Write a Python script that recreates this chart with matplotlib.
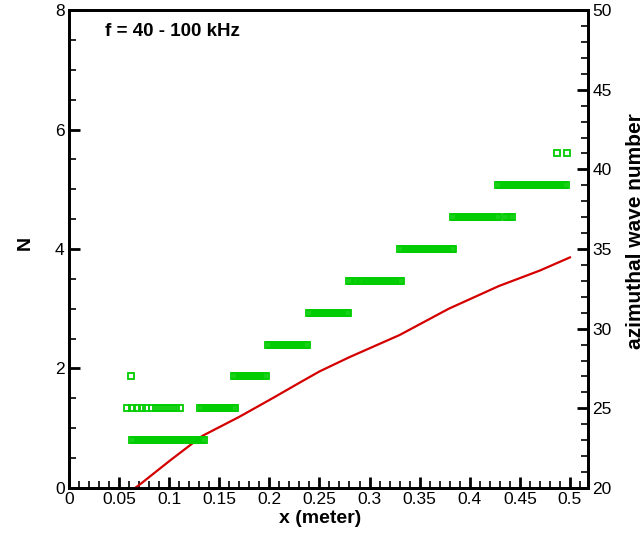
import matplotlib
matplotlib.use("Agg")
import matplotlib.pyplot as plt
from matplotlib.ticker import MultipleLocator

plt.rcParams['font.family'] = ['Liberation Sans', 'DejaVu Sans']

# red curve: N versus x
x_line = [0.066, 0.071, 0.101, 0.133, 0.170, 0.203, 0.230, 0.250, 0.280,
          0.330, 0.379, 0.429, 0.470, 0.500]
n_line = [0.00, 0.06, 0.46, 0.87, 1.19, 1.50, 1.76, 1.95, 2.19,
          2.56, 3.00, 3.38, 3.64, 3.86]

# green squares: azimuthal wave number versus x
w23 = [0.063, 0.065, 0.067, 0.069, 0.071, 0.073, 0.075, 0.077, 0.079, 0.081,
       0.083, 0.085, 0.087, 0.089, 0.091, 0.093, 0.095, 0.097, 0.099, 0.101,
       0.103, 0.105, 0.107, 0.109, 0.111, 0.113, 0.115, 0.117, 0.119, 0.121,
       0.123, 0.125, 0.127, 0.129, 0.131, 0.133, 0.135]
w25 = [0.058, 0.063, 0.068, 0.073, 0.077,
       0.083, 0.087, 0.091, 0.095, 0.099, 0.103, 0.107, 0.111,
       0.131, 0.133, 0.135, 0.137, 0.139, 0.141, 0.143, 0.145, 0.147, 0.149,
       0.151, 0.153, 0.155, 0.157, 0.159, 0.161, 0.163, 0.165, 0.166]
w27 = [0.062,
       0.165, 0.167, 0.169, 0.171, 0.173, 0.175, 0.177, 0.179, 0.181, 0.183,
       0.185, 0.187, 0.189, 0.191, 0.193, 0.195, 0.197]
w29 = [0.199, 0.201, 0.203, 0.205, 0.207, 0.209, 0.211, 0.213, 0.215, 0.217,
       0.219, 0.221, 0.223, 0.225, 0.227, 0.229, 0.231, 0.233, 0.235, 0.237,
       0.238]
w31 = [0.240, 0.242, 0.244, 0.246, 0.248, 0.250, 0.252, 0.254, 0.256, 0.258,
       0.260, 0.262, 0.264, 0.266, 0.268, 0.270, 0.272, 0.274, 0.276, 0.278,
       0.279]
w33 = [0.280, 0.282, 0.284, 0.286, 0.288, 0.290, 0.292, 0.294, 0.296, 0.298,
       0.300, 0.302, 0.304, 0.306, 0.308, 0.310, 0.312, 0.314, 0.316, 0.318,
       0.320, 0.322, 0.324, 0.326, 0.328, 0.330, 0.331]
w35 = [0.330, 0.332, 0.334, 0.336, 0.338, 0.340, 0.342, 0.344, 0.346, 0.348,
       0.350, 0.352, 0.354, 0.356, 0.358, 0.360, 0.362, 0.364, 0.366, 0.368,
       0.370, 0.372, 0.374, 0.376, 0.378, 0.380, 0.382, 0.383]
w37 = [0.383, 0.385, 0.387, 0.389, 0.391, 0.393, 0.395, 0.397, 0.399, 0.401,
       0.403, 0.405, 0.407, 0.409, 0.411, 0.413, 0.415, 0.417, 0.419, 0.421,
       0.423, 0.425, 0.427, 0.428,
       0.436, 0.438, 0.440, 0.442]
w39 = [0.428, 0.430, 0.432, 0.434, 0.436, 0.438, 0.440, 0.442, 0.444, 0.446,
       0.448, 0.450, 0.452, 0.454, 0.456, 0.458, 0.460, 0.462, 0.464, 0.466,
       0.468, 0.470, 0.472, 0.474, 0.476, 0.478, 0.480, 0.482, 0.484, 0.486,
       0.488, 0.490, 0.492, 0.494, 0.496]
w41 = [0.487, 0.497]
wave_sets = {23: w23, 25: w25, 27: w27, 29: w29, 31: w31, 33: w33,
             35: w35, 37: w37, 39: w39, 41: w41}

fig = plt.figure(figsize=(6.44, 5.35), dpi=100)
ax = fig.add_axes([0.107, 0.088, 0.806, 0.893])
ax2 = ax.twinx()

ax.plot(x_line, n_line, color='#d40000', lw=1.6, zorder=3)

green = '#00cc00'
for wn, xs in wave_sets.items():
    ax2.plot(xs, [wn] * len(xs), ls='none', marker='s', ms=4.0, mew=1.3,
             mec=green, mfc='none')

ax.set_xlim(0, 0.518)
ax.set_ylim(0, 8)
ax2.set_ylim(20, 50)

ax.xaxis.set_minor_locator(MultipleLocator(0.01))
ax.yaxis.set_major_locator(MultipleLocator(2))
ax.yaxis.set_minor_locator(MultipleLocator(0.5))
ax2.yaxis.set_major_locator(MultipleLocator(5))
ax2.yaxis.set_minor_locator(MultipleLocator(1))
ax.set_xticks([0, 0.05, 0.1, 0.15, 0.2, 0.25, 0.3, 0.35, 0.4, 0.45, 0.5])
ax.set_xticklabels(['0', '0.05', '0.1', '0.15', '0.2', '0.25', '0.3', '0.35',
                    '0.4', '0.45', '0.5'])

for a in (ax, ax2):
    for s in a.spines.values():
        s.set_linewidth(2)
    a.tick_params(which='major', direction='in', length=8, width=2,
                  labelsize=12.5, pad=3)
    a.tick_params(which='minor', direction='in', length=5, width=1.2)
ax.tick_params(top=False, which='both')
ax2.tick_params(top=False, which='both')

ax.set_xlabel('x (meter)', fontsize=14, fontweight='bold')
ax.set_ylabel('N', fontsize=14, fontweight='bold')
ax2.set_ylabel('azimuthal wave number', fontsize=15, fontweight='bold')
# label anchors sit on the text edge nearest the axes
ax.xaxis.set_label_coords(0.484, -0.046)
ax.yaxis.set_label_coords(-0.068, 0.513)
ax2.yaxis.set_label_coords(1.073, 0.538)

ax.text(0.07, 0.955, 'f = 40 - 100 kHz', transform=ax.transAxes,
        fontsize=13.5, fontweight='bold', va='center', ha='left')

fig.savefig('out.png', dpi=100)
